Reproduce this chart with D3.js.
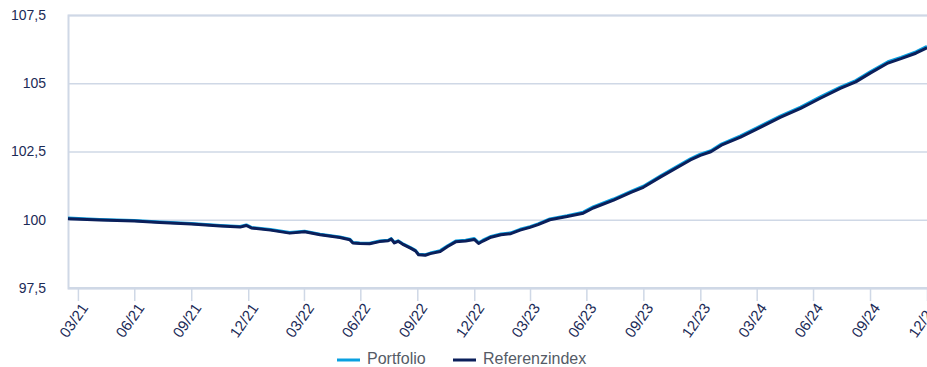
<!DOCTYPE html>
<html>
<head>
<meta charset="utf-8">
<script src="https://cdn.jsdelivr.net/npm/d3@7"></script>
<style>
  html, body { margin: 0; padding: 0; background: #fff; }
  svg { display: block; font-family: "Liberation Sans", Arial, Helvetica, sans-serif; }
</style>
</head>
<body>
<svg id="chart" width="927" height="367"></svg>
<script>
// Observation dates (ISO) of the indexed performance series
const dates = [
  "2021-03-15","2021-05-05","2021-06-30","2021-08-10","2021-09-30","2021-11-16","2021-12-18","2021-12-28",
  "2022-01-05","2022-02-05","2022-03-08","2022-04-01","2022-04-26","2022-05-28","2022-06-13","2022-06-18",
  "2022-06-29","2022-07-15","2022-07-31","2022-08-14","2022-08-19","2022-08-24","2022-08-30","2022-09-06",
  "2022-09-19","2022-09-27","2022-10-02","2022-10-13","2022-10-21","2022-11-06","2022-11-18","2022-12-01",
  "2022-12-17","2022-12-31","2023-01-07","2023-01-14","2023-01-27","2023-02-12","2023-02-28","2023-03-15",
  "2023-03-31","2023-04-13","2023-05-02","2023-05-30","2023-06-25","2023-07-11","2023-08-13","2023-09-10",
  "2023-09-30","2023-10-28","2023-12-15","2023-12-31","2024-01-17","2024-02-03","2024-03-05","2024-04-01",
  "2024-05-08","2024-06-10","2024-07-11","2024-08-13","2024-09-07","2024-10-01","2024-10-29","2024-11-19",
  "2024-12-13","2024-12-31"
];

// Referenzindex (indexed, start = 100)
const referenzindex = [
  100.04, 99.99, 99.95, 99.90, 99.84, 99.77, 99.73, 99.79,
  99.70, 99.62, 99.51, 99.56, 99.45, 99.35, 99.27, 99.15,
  99.13, 99.12, 99.20, 99.23, 99.29, 99.15, 99.21, 99.11,
  98.96, 98.86, 98.72, 98.70, 98.76, 98.84, 99.02, 99.19,
  99.22, 99.28, 99.13, 99.22, 99.36, 99.45, 99.49, 99.62,
  99.72, 99.82, 100.00, 100.12, 100.24, 100.43, 100.72, 101.00,
  101.19, 101.57, 102.19, 102.36, 102.49, 102.73, 103.03, 103.33,
  103.75, 104.08, 104.44, 104.81, 105.05, 105.38, 105.74, 105.90,
  106.10, 106.30
];

// Portfolio (indexed, start = 100)
const portfolio = [
  100.06, 100.01, 99.97, 99.92, 99.86, 99.79, 99.75, 99.81,
  99.72, 99.64, 99.53, 99.58, 99.47, 99.37, 99.29, 99.17,
  99.15, 99.14, 99.22, 99.25, 99.31, 99.17, 99.23, 99.13,
  98.98, 98.88, 98.74, 98.72, 98.78, 98.87, 99.05, 99.22,
  99.25, 99.31, 99.16, 99.25, 99.39, 99.48, 99.52, 99.65,
  99.75, 99.85, 100.03, 100.15, 100.28, 100.47, 100.76, 101.04,
  101.23, 101.61, 102.23, 102.40, 102.53, 102.77, 103.07, 103.38,
  103.80, 104.13, 104.49, 104.86, 105.10, 105.43, 105.79, 105.95,
  106.15, 106.35
];

// Axis ticks
const yTicks = [97.5, 100, 102.5, 105, 107.5];
const xTickDates = [
  "2021-03-31","2021-06-30","2021-09-30","2021-12-31",
  "2022-03-31","2022-06-30","2022-09-30","2022-12-31",
  "2023-03-31","2023-06-30","2023-09-30","2023-12-31",
  "2024-03-31","2024-06-30","2024-09-30","2024-12-31"
];

const seriesNames = ["Portfolio", "Referenzindex"];
const seriesColors = ["#0aa0e0", "#0b1f5a"];

const svg = d3.select("#chart");
const margin = { left: 68, right: 0, top: 15, bottom: 79 };
const W = 927, H = 367;

const parse = d3.utcParse("%Y-%m-%d");
const xDates = dates.map(parse);

const x = d3.scaleUtc()
  .domain([xDates[0], xDates[xDates.length - 1]])
  .range([margin.left, W - margin.right]);

const y = d3.scaleLinear()
  .domain([97.5, 107.5])
  .range([H - margin.bottom, margin.top]);

const gridColor = "#cfd8e6";
const textColor = "#1c2b57";

// Horizontal gridlines + y labels
const yAxis = d3.axisLeft(y)
  .tickValues(yTicks)
  .tickSize(-(W - margin.left - margin.right))
  .tickPadding(22)
  .tickFormat(d => d3.format(".1f")(d).replace(/\.0$/, "").replace(".", ","));

const gy = svg.append("g")
  .attr("transform", `translate(${margin.left},0)`)
  .call(yAxis);
gy.attr("font-size", null).attr("font-family", null);
gy.select(".domain").attr("stroke", gridColor).attr("stroke-width", 2);
gy.selectAll(".tick line").attr("stroke", gridColor).attr("stroke-width", 1.5);
gy.selectAll(".tick text")
  .attr("fill", textColor)
  .style("font-size", "14px");

// Bottom axis with rotated date labels
const xAxis = d3.axisBottom(x)
  .tickValues(xTickDates.map(parse))
  .tickSize(13)
  .tickFormat(d3.utcFormat("%m/%y"));

const gx = svg.append("g")
  .attr("transform", `translate(0,${H - margin.bottom})`)
  .call(xAxis);
gx.attr("font-size", null).attr("font-family", null);
gx.select(".domain").attr("stroke", gridColor).attr("stroke-width", 2)
  .attr("d", `M${margin.left},0H${W}`);
gx.selectAll(".tick line").attr("stroke", gridColor).attr("stroke-width", 1.5);
gx.selectAll(".tick text")
  .attr("fill", textColor)
  .style("font-size", "15px")
  .attr("text-anchor", "end")
  .attr("dy", "0.35em")
  .attr("transform", "translate(6,17) rotate(-55)")
  .attr("x", 0)
  .attr("y", 0);

// Series lines
const line = vals => d3.line()
  .x((d, i) => x(xDates[i]))
  .y(d => y(d))(vals);

svg.append("path")
  .attr("d", line(portfolio))
  .attr("fill", "none")
  .attr("stroke", seriesColors[0])
  .attr("stroke-width", 3)
  .attr("stroke-linejoin", "round");

svg.append("path")
  .attr("d", line(referenzindex))
  .attr("fill", "none")
  .attr("stroke", seriesColors[1])
  .attr("stroke-width", 3)
  .attr("stroke-linejoin", "round");

// Legend
const legendItems = [
  { name: seriesNames[0], color: seriesColors[0], x: 337 },
  { name: seriesNames[1], color: seriesColors[1], x: 453 }
];
const lg = svg.append("g");
legendItems.forEach(it => {
  lg.append("line")
    .attr("x1", it.x).attr("x2", it.x + 23)
    .attr("y1", 360).attr("y2", 360)
    .attr("stroke", it.color).attr("stroke-width", 3);
  lg.append("text")
    .attr("x", it.x + 30).attr("y", 364)
    .attr("fill", "#555b66")
    .style("font-size", "16px")
    .text(it.name);
});
</script>
</body>
</html>
